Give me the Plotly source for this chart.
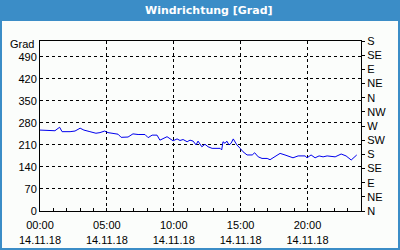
import plotly.graph_objects as go
import pandas as pd

# time in minutes after 14.11.18 00:00
minutes = [0, 45, 67, 88, 99, 135, 157, 180, 197, 224, 251, 269, 290, 305, 323, 350,
           364, 395, 417, 440, 471, 485, 503, 525, 538, 570, 597, 615, 628, 642, 660,
           673, 687, 700, 709, 726, 740, 754, 772, 808, 815, 821, 830, 838, 848, 857,
           867, 883, 898, 911, 929, 952, 963, 979, 996, 1019, 1032, 1055, 1077, 1099,
           1135, 1158, 1189, 1198, 1216, 1234, 1252, 1270, 1288, 1324, 1351, 1373, 1396, 1421]
values = [257, 257, 255, 266, 252, 252, 254, 263, 257, 252, 247, 249, 254, 249, 247, 244,
          234, 235, 245, 243, 243, 233, 241, 241, 225, 236, 223, 229, 224, 227, 220,
          225, 222, 210, 222, 204, 212, 204, 199, 199, 194, 220, 215, 222, 210, 215,
          229, 210, 199, 188, 178, 178, 185, 172, 167, 167, 163, 172, 183, 178,
          169, 175, 175, 169, 178, 169, 175, 172, 175, 172, 181, 175, 162, 178]

left_ticks = [0, 70, 140, 210, 280, 350, 420, 490]
right_ticks = [0, 45, 90, 135, 180, 225, 270, 315, 360, 405, 450, 495, 540]
right_labels = ["N", "NE", "E", "SE", "S", "SW", "W", "NW", "N", "NE", "E", "SE", "S"]
x_tick_times = ["2018-11-14 00:00", "2018-11-14 05:00", "2018-11-14 10:00",
                "2018-11-14 15:00", "2018-11-14 20:00"]
x_tick_text = ["00:00<br>14.11.18", "05:00<br>14.11.18", "10:00<br>14.11.18",
               "15:00<br>14.11.18", "20:00<br>14.11.18"]
title_text = "Windrichtung [Grad]"

base = pd.Timestamp("2018-11-14 00:00")
times = [base + pd.Timedelta(minutes=m) for m in minutes]

BLUE = "#3b8dc7"
W, H = 400, 250
L, R, T, B = 40, 39, 41, 39
pw, ph = W - L - R, H - T - B

def px(x):
    return (x - L) / pw

def py(y):
    return (H - B - y) / ph

fig = go.Figure()
fig.add_trace(go.Scatter(x=times, y=values, mode="lines",
                         line=dict(color="#0000ee", width=1), showlegend=False,
                         hoverinfo="skip"))
fig.add_trace(go.Scatter(x=times[:1], y=values[:1], yaxis="y2", mode="lines",
                         line=dict(color="rgba(0,0,0,0)"), showlegend=False,
                         hoverinfo="skip"))

tickfont = dict(family="Liberation Sans, Arial, sans-serif", size=11, color="black")

fig.update_layout(
    width=W, height=H,
    margin=dict(l=L, r=R, t=T, b=B, pad=0, autoexpand=False),
    paper_bgcolor=BLUE,
    plot_bgcolor="#ffffff",
    xaxis=dict(
        type="date", automargin=False,
        range=["2018-11-14 00:00", "2018-11-15 00:00"],
        tickvals=x_tick_times, ticktext=x_tick_text,
        tickfont=tickfont, ticklabelstandoff=4,
        showline=True, linecolor="black", linewidth=1, mirror=True,
        showgrid=True, gridcolor="black", gridwidth=1, griddash="3px,3px",
        ticks="inside", ticklen=3, tickcolor="black",
        minor=dict(dtick=3600000, ticks="inside", ticklen=3, tickcolor="black",
                   showgrid=False),
        zeroline=False, fixedrange=True,
    ),
    yaxis=dict(
        range=[0, 540], automargin=False,
        tickvals=left_ticks,
        tickfont=tickfont,
        showline=True, linecolor="black", linewidth=1, mirror=True,
        showgrid=True, gridcolor="black", gridwidth=1, griddash="3px,3px",
        ticks="", zeroline=False, fixedrange=True,
    ),
    yaxis2=dict(
        range=[0, 540], overlaying="y", side="right", automargin=False,
        tickvals=right_ticks, ticktext=right_labels,
        tickfont=dict(family="Liberation Sans, Arial, sans-serif", size=11, color="black"),
        ticks="outside", ticklen=3, tickcolor="black",
        showgrid=False, zeroline=False, showline=False, fixedrange=True,
    ),
    shapes=[
        dict(type="rect", xref="paper", yref="paper",
             x0=px(2), x1=px(398), y0=py(248), y1=py(21),
             fillcolor="#fbfdfb", line=dict(width=0), layer="below"),
    ],
    annotations=[
        dict(text=title_text, xref="paper", yref="paper",
             x=px(209), y=py(10.5), xanchor="center", yanchor="middle",
             showarrow=False,
             font=dict(family="DejaVu Sans, sans-serif", size=11, color="white",
                       weight="bold")),
        dict(text="Grad", xref="paper", yref="paper",
             x=px(36), y=py(44), xanchor="right", yanchor="middle",
             showarrow=False, font=tickfont),
    ],
)

fig.write_html("out.html", config={"displayModeBar": False})
